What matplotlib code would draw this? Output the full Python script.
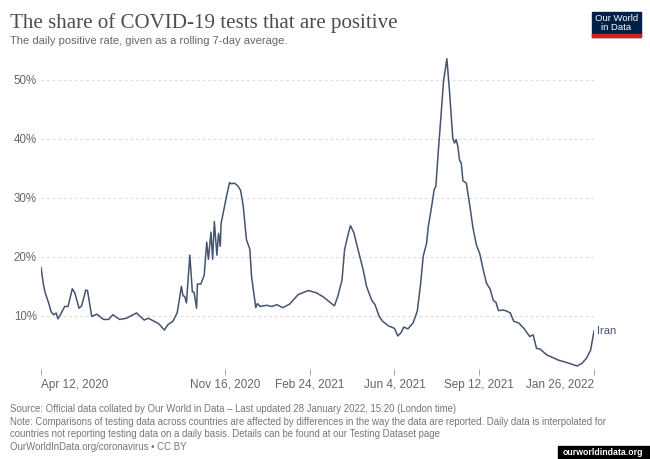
import numpy as np
import pandas as pd
from matplotlib import pyplot as plt
from matplotlib.patches import Rectangle

# ------------------------------------------------------------------------------------------------------------------
#  values (Iran, share of positive tests, 7-day rolling average)
# ------------------------------------------------------------------------------------------------------------------
start_date = "2020-04-12"
day_offsets = [0, 3, 5, 9, 12, 15, 18, 20, 23, 28, 32, 37, 40, 45, 48, 53, 55, 60, 66, 74,
               80, 85, 93, 101, 113, 122, 127, 139, 146, 150, 156, 161, 163, 166, 168, 170, 172, 176, 179, 181,
               184, 185, 189, 193, 196, 198, 201, 203, 205, 208, 210, 212, 213, 215, 219, 223, 225, 229, 233, 236,
               239, 243, 247, 249, 254, 256, 259, 267, 273, 279, 286, 294, 304, 316, 326, 334, 347, 351, 356, 359,
               363, 366, 370, 375, 381, 385, 391, 395, 400, 404, 411, 418, 422, 426, 429, 434, 440, 445, 449, 452,
               456, 458, 462, 465, 467, 470, 473, 476, 480, 483, 487, 489, 491, 493, 495, 497, 499, 503, 507, 511,
               515, 519, 523, 527, 531, 535, 538, 541, 547, 551, 555, 559, 565, 571, 578, 582, 586, 590, 598, 612,
               624, 634, 640, 645, 650, 654]
positive_rate = [18.2, 15.2, 13.9, 12.2, 10.7, 10.2, 10.5, 9.5, 10.2, 11.6, 11.6, 14.6, 13.9, 11.3, 11.7, 14.4, 14.3, 9.9, 10.3, 9.4,
                 9.4, 10.2, 9.4, 9.6, 10.5, 9.3, 9.6, 8.7, 7.6, 8.5, 9.1, 10.5, 12.2, 15.0, 13.4, 13.3, 12.2, 20.3, 14.1, 14.0,
                 11.3, 15.4, 15.4, 16.9, 22.5, 19.6, 24.2, 19.6, 26.0, 20.3, 24.0, 21.8, 25.7, 27.1, 30.0, 32.6, 32.4, 32.5, 32.0, 31.3,
                 28.8, 22.9, 21.3, 16.7, 11.4, 12.1, 11.6, 11.8, 11.6, 11.9, 11.4, 12.0, 13.6, 14.3, 13.9, 13.2, 11.7, 13.3, 16.1, 21.2,
                 23.7, 25.3, 24.1, 21.2, 17.8, 15.0, 12.7, 11.9, 9.9, 9.1, 8.3, 7.9, 6.6, 7.2, 8.1, 7.8, 8.8, 10.8, 15.5, 20.1,
                 22.3, 25.1, 28.6, 31.4, 32.0, 38.2, 43.8, 49.7, 53.6, 48.3, 40.1, 39.3, 39.9, 38.7, 36.4, 35.9, 32.9, 32.5, 28.8, 24.8,
                 22.0, 20.5, 17.8, 15.5, 14.6, 12.6, 12.3, 10.9, 11.0, 10.8, 10.5, 9.1, 8.8, 7.9, 6.5, 6.8, 4.5, 4.4, 3.4, 2.5,
                 2.0, 1.5, 2.0, 2.8, 4.2, 7.4]
country = "Iran"

tick_dates = ["2020-04-12", "2020-11-16", "2021-02-24", "2021-06-04", "2021-09-12", "2022-01-26"]
tick_labels = ["Apr 12, 2020", "Nov 16, 2020", "Feb 24, 2021", "Jun 4, 2021", "Sep 12, 2021", "Jan 26, 2022"]
y_ticks = [10, 20, 30, 40, 50]

title = "The share of COVID-19 tests that are positive"
subtitle = "The daily positive rate, given as a rolling 7-day average."
footer = ["Source: Official data collated by Our World in Data – Last updated 28 January 2022, 15:20 (London time)",
          "Note: Comparisons of testing data across countries are affected by differences in the way the data are reported. "
          "Daily data is interpolated for",
          "countries not reporting testing data on a daily basis. Details can be found at our Testing Dataset page",
          "OurWorldInData.org/coronavirus • CC BY"]

line_color = "#45546f"
text_grey = "#666666"

W, H = 650, 459
plt.rcParams["font.family"] = ["Liberation Sans", "DejaVu Sans"]
fig = plt.figure(figsize=(W / 100, H / 100), dpi=100)


def px(x, y):
    # pixel position (from top-left) to figure fraction
    return x / W, 1 - y / H


# ------------------------------------------------------------------------------------------------------------------
#  main plot area
# ------------------------------------------------------------------------------------------------------------------
left, bottom = px(41, 369)
right, top = px(594, 47.5)
ax = fig.add_axes([left, bottom, right - left, top - bottom])

dates = pd.Timestamp(start_date) + pd.to_timedelta(day_offsets, unit="D")
ax.plot(dates, positive_rate, color=line_color, lw=1.1, solid_joinstyle="round")
ax.text(dates[-1] + pd.Timedelta(days=3), positive_rate[-1], country, color=line_color,
        fontsize=8, va="center", ha="left", clip_on=False)

ax.set_xlim(pd.Timestamp(tick_dates[0]), pd.Timestamp(tick_dates[-1]))
ax.set_ylim(1.0, 55.5)

ax.set_yticks(y_ticks)
ax.set_yticklabels([f"{v}%" for v in y_ticks])
ax.yaxis.grid(True, color="#dddddd", lw=0.8, linestyle=(0, (2.5, 2.5)))
ax.tick_params(axis="y", length=0, pad=3, labelsize=8.3, labelcolor=text_grey)

ax.set_xticks(pd.to_datetime(tick_dates))
ax.set_xticklabels(tick_labels)
ax.tick_params(axis="x", length=4, width=0.6, color="#999999", pad=3, labelsize=8.5, labelcolor=text_grey)
xlabels = ax.get_xticklabels()
xlabels[0].set_ha("left")
xlabels[-1].set_ha("right")

for s in ax.spines.values():
    s.set_visible(False)

# ------------------------------------------------------------------------------------------------------------------
#  header, footer and logos
# ------------------------------------------------------------------------------------------------------------------
fig.text(*px(10, 28), title, fontsize=15.1, color="#4d4d4d", family="Liberation Serif", va="baseline")
fig.text(*px(10, 43.5), subtitle, fontsize=8.0, color=text_grey, va="baseline")

for i, line in enumerate(footer):
    fig.text(*px(10, 412 + 12.7 * i), line, fontsize=6.95, color="#777777", va="baseline")

# Our World in Data logo
lx, ly = px(592, 37)
fig.patches.append(Rectangle((lx, ly), 49 / W, 25 / H, transform=fig.transFigure, color="#002147"))
fig.patches.append(Rectangle((lx, ly), 49 / W, 2.5 / H, transform=fig.transFigure, color="#ce261e"))
fig.text(*px(616.5, 23), "Our World\nin Data", fontsize=6.8, color="white", ha="center", va="center",
         linespacing=0.95)

# url badge bottom right
bx, by = px(558, 459)
fig.patches.append(Rectangle((bx, by), 92 / W, 13 / H, transform=fig.transFigure, color="black"))
fig.text(*px(603, 452.5), "ourworldindata.org", fontsize=6.3, color="white", weight="bold", ha="center", va="center")

fig.savefig("out.png", dpi=100, facecolor="white")
